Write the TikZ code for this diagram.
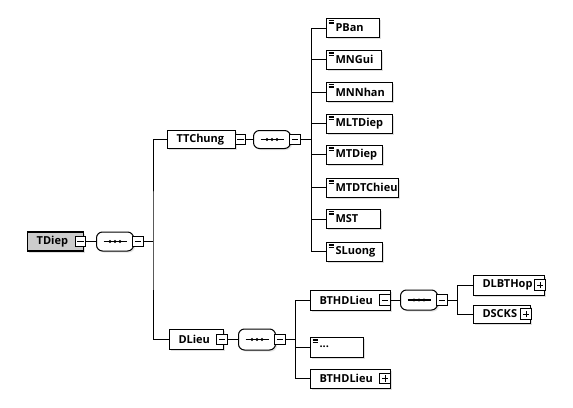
\documentclass[tikz,border=0pt]{standalone}
\usepackage{fontspec}
\setmainfont{Open Sans}
\usetikzlibrary{calc,shadows}
\begin{document}
\begin{tikzpicture}[x=1pt,y=-1pt,
  elem/.style={draw=black, line width=1pt, fill=white, minimum height=19pt,
    inner xsep=9pt, inner ysep=0pt, anchor=west, align=left,
    font=\bfseries\fontsize{11}{12}\selectfont,
    drop shadow={shadow xshift=1.5pt,shadow yshift=-1.5pt,fill=black!25}},
  simp/.style={path picture={
    \foreach \d in {2.2,3.7,5.2}
      \draw[black, line width=0.5pt] ([shift={(2pt,-\d pt)}]path picture bounding box.north west) -- ++(5pt,0);}},
  minusbox/.style={draw, fill=white, minimum size=10.5pt, inner sep=0pt, line width=0.7pt,
    path picture={\draw[black, line width=0.8pt] ([xshift=2pt]path picture bounding box.west) -- ([xshift=-2pt]path picture bounding box.east);}},
  plusbox/.style={draw, fill=white, minimum size=10.5pt, inner sep=0pt, line width=0.7pt,
    path picture={\draw[black, line width=0.8pt] ([xshift=2pt]path picture bounding box.west) -- ([xshift=-2pt]path picture bounding box.east);
      \draw[black, line width=0.8pt] ([yshift=2pt]path picture bounding box.south) -- ([yshift=-2pt]path picture bounding box.north);}},
  seqbox/.style={draw, line width=1pt, fill=white, rounded corners=6pt, minimum width=37pt,
    minimum height=19pt, inner sep=0pt, anchor=west,
    drop shadow={shadow xshift=1.5pt,shadow yshift=-1.5pt,fill=black!20},
    path picture={\draw[black, line width=1.1pt, sharp corners] ([xshift=7pt]path picture bounding box.west) -- ([xshift=-7pt]path picture bounding box.east);
      \foreach \dx in {-5,0,5} \fill[black] ([xshift=\dx pt]path picture bounding box.center) circle (1.6pt);}},
  conn/.style={line width=0.8pt}
]
\useasboundingbox (0,0) rectangle (573,407);

% root
\node[elem, fill=black!20, line width=1.3pt, minimum width=56pt, text width=38pt] (tdiep) at (27,241.5) {TDiep};
\node[minusbox] (tdm) at (80.5,241.5) {};
\node[seqbox] (s1) at (96,241.5) {};
\node[minusbox] (s1m) at (138,241.5) {};
\coordinate (j1) at (153,241.5);

% TTChung
\node[elem, minimum height=18pt, minimum width=68pt, text width=50pt] (ttc) at (167,139.5) {TTChung};
\node[minusbox] (ttcm) at (240.5,139.5) {};
\node[seqbox, minimum height=18pt] (s2) at (253,139.5) {};
\node[minusbox] (s2m) at (295,139.5) {};
\coordinate (j2) at (311,139.5);

\node[elem, simp, minimum width=53pt, text width=35pt] (pban) at (326,28) {PBan};
\node[elem, simp, minimum width=55pt, text width=37pt] (mngui) at (326,59.5) {MNGui};
\node[elem, simp, minimum width=66pt, text width=48pt] (mnnhan) at (326,92) {MNNhan};
\node[elem, simp, minimum width=66pt, text width=48pt] (mltdiep) at (326,123.5) {MLTDiep};
\node[elem, simp, minimum width=56pt, text width=38pt] (mtdiep) at (326,154.5) {MTDiep};
\node[elem, simp, minimum width=72pt, text width=54pt] (mtdtchieu) at (326,187.5) {MTDTChieu};
\node[elem, simp, minimum width=54pt, text width=36pt] (mst) at (326,219) {MST};
\node[elem, simp, minimum width=56pt, text width=38pt] (sluong) at (326,251.5) {SLuong};

% DLieu
\node[elem, minimum height=20pt, minimum width=54pt, text width=36pt] (dl) at (169,339.5) {DLieu};
\node[minusbox] (dlm) at (222,339.5) {};
\node[seqbox, minimum height=21pt] (s3) at (238,339.5) {};
\node[minusbox] (s3m) at (280,339.5) {};
\coordinate (j3) at (295,339.5);

\node[elem, minimum height=20pt, minimum width=80pt, text width=62pt] (bt1) at (310,300) {BTHDLieu};
\node[minusbox] (bt1m) at (385,300) {};
\node[seqbox, minimum height=20pt] (s4) at (400,300) {};
\node[minusbox] (s4m) at (442,300) {};
\coordinate (j4) at (457,300);

\node[elem, simp, minimum height=20pt, minimum width=53pt, text width=35pt] (etc) at (310,347) {...};
\node[elem, minimum width=80pt, text width=62pt] (bt2) at (310,378.5) {BTHDLieu};
\node[plusbox] (bt2p) at (385,378.5) {};

\node[elem, minimum height=20pt, minimum width=71pt, text width=53pt] (dlb) at (473,285) {DLBTHop};
\node[plusbox] (dlbp) at (540,285) {};
\node[elem, minimum height=18pt, minimum width=57pt, text width=39pt] (dsc) at (473,314) {DSCKS};
\node[plusbox] (dscp) at (526,314) {};

% connectors
\draw[conn] (tdm.east) -- (s1.west);
\draw[conn] (s1m.east) -- (j1);
\draw[conn] (ttc.west) -| (j1) |- (dl.west);

\draw[conn] (ttcm.east) -- (s2.west);
\draw[conn] (s2m.east) -- (j2);
\foreach \n in {pban,mngui,mnnhan,mltdiep,mtdiep,mtdtchieu,mst,sluong}
  \draw[conn] (j2) |- (\n.west);

\draw[conn] (dlm.east) -- (s3.west);
\draw[conn] (s3m.east) -- (j3);
\foreach \n in {bt1,etc,bt2}
  \draw[conn] (j3) |- (\n.west);

\draw[conn] (bt1m.east) -- (s4.west);
\draw[conn] (s4m.east) -- (j4);
\foreach \n in {dlb,dsc}
  \draw[conn] (j4) |- (\n.west);
\end{tikzpicture}
\end{document}
